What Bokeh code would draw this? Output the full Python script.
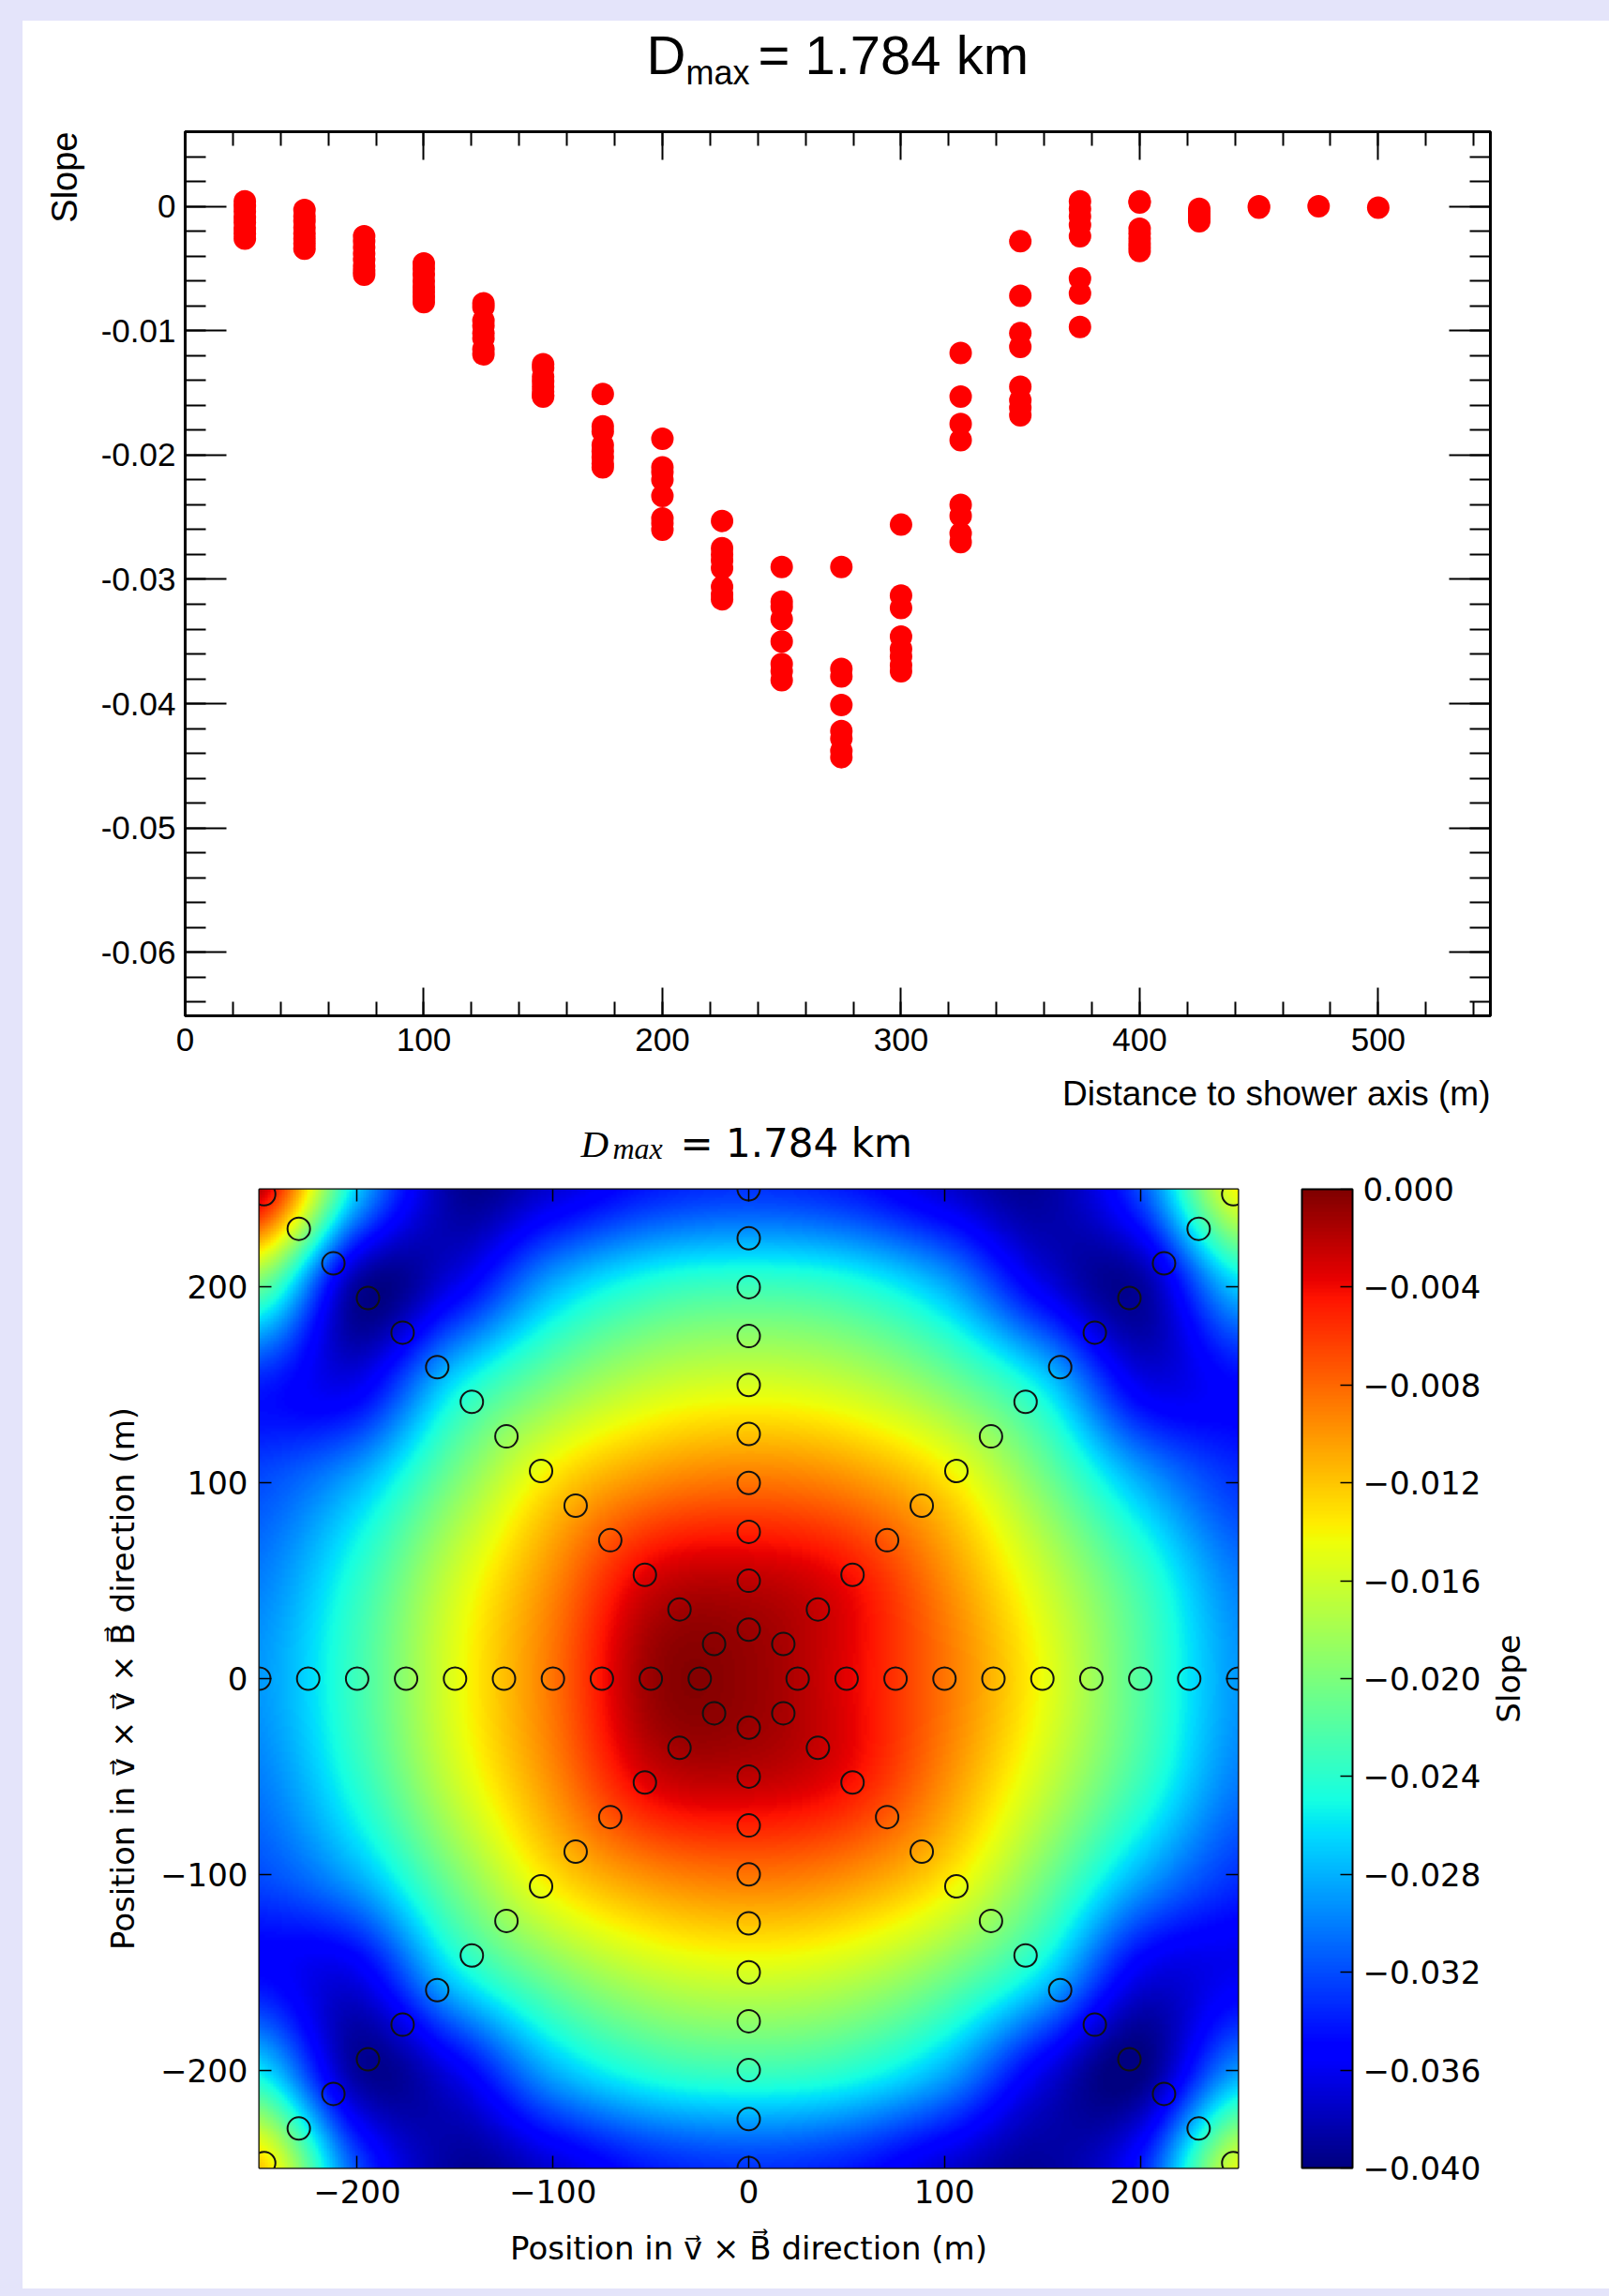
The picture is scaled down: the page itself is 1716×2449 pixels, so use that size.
import numpy as np
from bokeh.plotting import figure
from bokeh.models import (Range1d, LinearAxis, FixedTicker, CustomJSTickFormatter, Title, Label,
                          LinearColorMapper, ColorBar, AllLabels)
from bokeh.layouts import column, row
from bokeh.embed import file_html
from bokeh.resources import INLINE

# ---------------- data: top panel (slope vs distance) ----------------
distances = [25, 50, 75, 100, 125, 150, 175, 200, 225, 250,
             275, 300, 325, 350, 375, 400, 425, 450, 475, 500]
slope_d25 = [0.0004, 0.0000, -0.0004, -0.0009, -0.0013, -0.0018, -0.0022, -0.0026]
slope_d50 = [-0.0003, -0.0008, -0.0012, -0.0017, -0.0022, -0.0026, -0.0030, -0.0034]
slope_d75 = [-0.0024, -0.0028, -0.0033, -0.0038, -0.0043, -0.0048, -0.0052, -0.0055]
slope_d100 = [-0.0046, -0.0050, -0.0055, -0.0060, -0.0065, -0.0069, -0.0073, -0.0077]
slope_d125 = [-0.0078, -0.0081, -0.0092, -0.0096, -0.0102, -0.0106, -0.0115, -0.0119]
slope_d150 = [-0.0127, -0.0130, -0.0137, -0.0141, -0.0145, -0.0149, -0.0152, -0.0153]
slope_d175 = [-0.0151, -0.0177, -0.0181, -0.0192, -0.0197, -0.0202, -0.0207, -0.0210]
slope_d200 = [-0.0187, -0.0210, -0.0214, -0.0220, -0.0233, -0.0251, -0.0255, -0.0260]
slope_d225 = [-0.0253, -0.0275, -0.0280, -0.0285, -0.0291, -0.0306, -0.0312, -0.0316]
slope_d250 = [-0.0290, -0.0318, -0.0322, -0.0332, -0.0350, -0.0368, -0.0374, -0.0381]
slope_d275 = [-0.0290, -0.0372, -0.0378, -0.0401, -0.0422, -0.0428, -0.0438, -0.0443]
slope_d300 = [-0.0256, -0.0313, -0.0323, -0.0346, -0.0356, -0.0362, -0.0369, -0.0374]
slope_d325 = [-0.0118, -0.0153, -0.0175, -0.0188, -0.0240, -0.0249, -0.0263, -0.0270]
slope_d350 = [-0.0028, -0.0072, -0.0102, -0.0113, -0.0145, -0.0156, -0.0162, -0.0168]
slope_d375 = [0.0004, -0.0002, -0.0008, -0.0015, -0.0024, -0.0058, -0.0070, -0.0097]
slope_d400 = [0.0004, 0.0003, -0.0018, -0.0022, -0.0026, -0.0030, -0.0033, -0.0036]
slope_d425 = [-0.0002, -0.0004, -0.0006, -0.0008, -0.0010, -0.0012]
slope_d450 = [-0.0001, 0.0000]
slope_d475 = [0.0000]
slope_d500 = [-0.0001]

slopes_by_distance = [slope_d25, slope_d50, slope_d75, slope_d100, slope_d125, slope_d150,
                      slope_d175, slope_d200, slope_d225, slope_d250, slope_d275, slope_d300,
                      slope_d325, slope_d350, slope_d375, slope_d400, slope_d425, slope_d450,
                      slope_d475, slope_d500]

x_ticks_top = [0, 100, 200, 300, 400, 500]
y_ticks_top = [-0.06, -0.05, -0.04, -0.03, -0.02, -0.01, 0.0]

# ---------------- data: bottom panel (slope map) ----------------
map_x_centers = [-250, -200, -150, -100, -50, 0, 50, 100, 150, 200, 250]
map_y_centers = [250, 200, 150, 100, 50, 0, -50, -100, -150, -200, -250]
# rows from y = +250 (top) down to y = -250 (bottom); columns x = -250 ... 250
slope_grid = [
    [-0.002, -0.027, -0.039, -0.037, -0.034, -0.033, -0.034, -0.037, -0.039, -0.032, -0.014],
    [-0.021, -0.039, -0.036, -0.028, -0.024, -0.023, -0.024, -0.028, -0.036, -0.039, -0.027],
    [-0.034, -0.036, -0.026, -0.020, -0.0165, -0.0155, -0.0165, -0.020, -0.026, -0.036, -0.035],
    [-0.032, -0.028, -0.020, -0.013, -0.0095, -0.0085, -0.0095, -0.013, -0.020, -0.028, -0.033],
    [-0.030, -0.024, -0.016, -0.0095, -0.003, -0.0022, -0.004, -0.0095, -0.016, -0.023, -0.030],
    [-0.029, -0.023, -0.015, -0.0085, -0.001, -0.0008, -0.0035, -0.0085, -0.0145, -0.022, -0.029],
    [-0.030, -0.024, -0.016, -0.0095, -0.003, -0.0022, -0.004, -0.0095, -0.016, -0.023, -0.030],
    [-0.032, -0.028, -0.020, -0.013, -0.0095, -0.0085, -0.0095, -0.013, -0.020, -0.028, -0.033],
    [-0.035, -0.036, -0.026, -0.020, -0.0165, -0.0155, -0.0165, -0.020, -0.026, -0.036, -0.036],
    [-0.026, -0.039, -0.036, -0.028, -0.024, -0.023, -0.024, -0.028, -0.036, -0.040, -0.029],
    [-0.012, -0.032, -0.039, -0.037, -0.034, -0.033, -0.034, -0.037, -0.039, -0.034, -0.015],
]
arm_angles_deg = [0, 45, 90, 135, 180, 225, 270, 315]
station_radii = distances
map_ticks = [-200, -100, 0, 100, 200]
cbar_ticks = [-0.040, -0.036, -0.032, -0.028, -0.024, -0.020, -0.016, -0.012, -0.008, -0.004, 0.0]

LAVENDER = "#e4e4fa"

# ---------------- helpers ----------------
def jet_palette(n=256):
    f = np.linspace(0, 1, n)
    r = np.interp(f, [0, 0.35, 0.66, 0.89, 1], [0, 0, 1, 1, 0.5])
    g = np.interp(f, [0, 0.125, 0.375, 0.64, 0.91, 1], [0, 0, 1, 1, 0, 0])
    b = np.interp(f, [0, 0.11, 0.34, 0.65, 1], [0.5, 1, 1, 0, 0])
    return ["#%02x%02x%02x" % (int(round(255 * a)), int(round(255 * c)), int(round(255 * d)))
            for a, c, d in zip(r, g, b)]

def smooth_matrix(centers, lo, hi, n_out):
    """Catmull-Rom resampling matrix used only to display the grid smoothly."""
    centers = np.asarray(centers, dtype=float)
    if centers[0] > centers[-1]:
        centers = centers[::-1]
    stepc = centers[1] - centers[0]
    n_in = len(centers)
    xs = lo + (np.arange(n_out) + 0.5) * (hi - lo) / n_out
    M = np.zeros((n_out, n_in))
    for k, xv in enumerate(xs):
        t = (xv - centers[0]) / stepc
        i = int(np.floor(t))
        u = t - i
        w = [(-u ** 3 + 2 * u ** 2 - u) / 2, (3 * u ** 3 - 5 * u ** 2 + 2) / 2,
             (-3 * u ** 3 + 4 * u ** 2 + u) / 2, (u ** 3 - u ** 2) / 2]
        for j, wj in zip(range(i - 1, i + 3), w):
            M[k, min(max(j, 0), n_in - 1)] += wj
    return M

EMPTY = CustomJSTickFormatter(code="return '';")

def style_axis(ax, tin, tmin, font, size, standoff, width=2):
    ax.axis_line_color = None
    ax.major_tick_in = tin
    ax.major_tick_out = 0
    ax.minor_tick_in = tmin
    ax.minor_tick_out = 0
    ax.major_tick_line_color = "black"
    ax.minor_tick_line_color = "black"
    ax.major_tick_line_width = width
    ax.minor_tick_line_width = width
    ax.major_label_text_font = font
    ax.major_label_text_font_size = size
    ax.major_label_text_color = "black"
    ax.major_label_standoff = standoff

def mirror(ax):
    ax.formatter = EMPTY
    ax.major_label_standoff = 0
    ax.major_label_text_font_size = "1px"

def text_strip(width, height, left, right):
    """Blank figure whose frame is used (1 unit = 1 px) to place caption text."""
    f = figure(width=width, height=height, x_range=Range1d(0, width - left - right),
               y_range=Range1d(0, height), output_backend="svg", toolbar_location=None,
               title=None, x_axis_location=None, y_axis_location=None,
               min_border_left=left, min_border_right=right, min_border_top=0, min_border_bottom=0)
    f.xgrid.visible = False
    f.ygrid.visible = False
    f.outline_line_color = None
    f.border_fill_color = "white"
    f.background_fill_color = "white"
    return f

MID = 0.38   # distance from text middle to baseline, in em

# ---------------- top figure ----------------
L1, R1 = 173, 127
pt1 = text_strip(1692, 100, L1, R1)       # page y 22 .. 122
pt1.add_layout(Label(x=689 - 197, y=122 - (80 - MID * 58), text="D", text_font="Liberation Sans",
                     text_font_size="58px", text_color="black", text_baseline="middle"))
pt1.add_layout(Label(x=731 - 197, y=122 - (91 - MID * 36), text="max", text_font="Liberation Sans",
                     text_font_size="36px", text_color="black", text_baseline="middle"))
pt1.add_layout(Label(x=808 - 197, y=122 - (80 - MID * 58), text="= 1.784 km", text_font="Liberation Sans",
                     text_font_size="58px", text_color="black", text_baseline="middle"))

p1 = figure(width=1692, height=1018, x_range=Range1d(0, 547), y_range=Range1d(-0.0651, 0.0060),
            output_backend="svg", toolbar_location=None, title=None,
            x_axis_location=None, y_axis_location=None,
            min_border_left=L1, min_border_right=R1, min_border_top=18, min_border_bottom=57)
p1.xgrid.visible = False
p1.ygrid.visible = False
p1.background_fill_color = "white"
p1.border_fill_color = "white"
p1.outline_line_color = "black"
p1.outline_line_width = 3

x_minor = [v for v in range(0, 560, 20)]
y_minor = [round(-0.064 + 0.002 * i, 3) for i in range(36)]
for loc in ["below", "above"]:
    ax = LinearAxis(ticker=FixedTicker(ticks=x_ticks_top, minor_ticks=x_minor))
    style_axis(ax, 30, 15, "Liberation Sans", "35px", 13)
    if loc == "above":
        mirror(ax)
    p1.add_layout(ax, loc)
for loc in ["left", "right"]:
    ax = LinearAxis(ticker=FixedTicker(ticks=y_ticks_top, minor_ticks=y_minor))
    style_axis(ax, 44, 22, "Liberation Sans", "35px", 10)
    if loc == "left":
        ax.formatter = CustomJSTickFormatter(code="return Math.abs(tick) < 1e-12 ? '0' : tick.toFixed(2);")
    else:
        mirror(ax)
    p1.add_layout(ax, loc)

xs, ys = [], []
for d, vals in zip(distances, slopes_by_distance):
    xs += [d] * len(vals)
    ys += vals
p1.scatter(x=xs, y=ys, marker="circle", size=24, fill_color="#ff0000", line_color=None)

p1.add_layout(Title(text="Slope", align="right", text_font="Liberation Sans", text_font_size="38px",
                    text_font_style="normal", text_color="black", standoff=29), "left")

px1 = text_strip(1692, 52, L1, R1)        # page y 1140 .. 1192
px1.add_layout(Label(x=1392, y=1192 - (1180 - MID * 37), text="Distance to shower axis (m)",
                     text_align="right", text_baseline="middle", text_font="Liberation Sans",
                     text_font_size="37px", text_color="black"))

# ---------------- bottom figure ----------------
SLOPE_W = 130
L2, R2 = 252, 396
TOP2 = 54                                  # title strip: page y 1192 .. 1246
pt2 = text_strip(1692, TOP2, L2, R2)
Y2 = 1192 + TOP2
pt2.add_layout(Label(x=619 - 276, y=Y2 - (1235 - MID * 41), text="D", text_font="Liberation Serif",
                     text_font_style="italic", text_font_size="41px", text_color="black",
                     text_baseline="middle"))
pt2.add_layout(Label(x=653 - 276, y=Y2 - (1237 - MID * 32), text="max", text_font="Liberation Serif",
                     text_font_style="italic", text_font_size="32px", text_color="black",
                     text_baseline="middle"))
pt2.add_layout(Label(x=725 - 276, y=Y2 - (1235 - MID * 42), text="= 1.784 km", text_font="DejaVu Sans",
                     text_font_size="42px", text_color="black", text_baseline="middle"))

H2 = 2441 - Y2
p2 = figure(width=1692 - SLOPE_W, height=H2, x_range=Range1d(-250, 250), y_range=Range1d(-250, 250),
            output_backend="svg", toolbar_location=None, title=None,
            x_axis_location=None, y_axis_location=None,
            min_border_left=L2, min_border_right=R2 - SLOPE_W, min_border_top=1268 - Y2,
            min_border_bottom=129)
p2.xgrid.visible = False
p2.ygrid.visible = False
p2.border_fill_color = "white"
p2.outline_line_color = "black"
p2.outline_line_width = 2

mapper = LinearColorMapper(palette=jet_palette(), low=-0.04, high=0.0)
grid = np.array(slope_grid[::-1], dtype=float)          # bottom row first
NPIX = 348
Mx = smooth_matrix(map_x_centers, -250, 250, NPIX)
My = smooth_matrix(map_y_centers, -250, 250, NPIX)
display_img = My @ grid @ Mx.T
p2.image(image=[display_img], x=-250, y=-250, dw=500, dh=500, color_mapper=mapper)

sx, sy = [], []
for a in arm_angles_deg:
    for r in station_radii:
        sx.append(r * np.cos(np.radians(a)))
        sy.append(r * np.sin(np.radians(a)))
p2.scatter(x=sx, y=sy, marker="circle", size=24, fill_color=None, line_color="#111111", line_width=2)

minus_fmt = "return tick < 0 ? '\\u2212' + Math.abs(tick) : String(tick);"
for loc in ["below", "above", "left", "right"]:
    ax = LinearAxis(ticker=FixedTicker(ticks=map_ticks, minor_ticks=[]))
    style_axis(ax, 13, 0, "DejaVu Sans", "34px", 12, width=1.5)
    if loc in ("below", "left"):
        ax.formatter = CustomJSTickFormatter(code=minus_fmt)
        ax.axis_label_text_font = "DejaVu Sans"
        ax.axis_label_text_font_size = "34px"
        ax.axis_label_text_font_style = "normal"
        ax.axis_label_text_color = "black"
        if loc == "below":
            ax.axis_label = "Position in v\u20d7 \u00d7 B\u20d7 direction (m)"
            ax.axis_label_standoff = 25
        else:
            ax.axis_label = "Position in v\u20d7 \u00d7 v\u20d7 \u00d7 B\u20d7 direction (m)"
            ax.axis_label_standoff = 17
    else:
        mirror(ax)
    p2.add_layout(ax, loc)

cb = ColorBar(color_mapper=mapper, ticker=FixedTicker(ticks=cbar_ticks),
              formatter=CustomJSTickFormatter(code="return Math.abs(tick) < 1e-12 ? '0.000' : '\\u2212' + Math.abs(tick).toFixed(3);"),
              major_label_policy=AllLabels(),
              width=54, height=1044, location=(68, 0), padding=0, label_standoff=11,
              major_tick_in=13, major_tick_out=0, major_tick_line_color="black",
              major_tick_line_width=1.5, minor_tick_line_color=None,
              bar_line_color="black", bar_line_width=2,
              major_label_text_font="DejaVu Sans", major_label_text_font_size="34px",
              major_label_text_color="black",
              background_fill_color=None, border_line_color=None)
p2.add_layout(cb, "right")

# narrow strip to the right of the map that carries the colour-bar caption
p3 = figure(width=SLOPE_W, height=H2, x_range=Range1d(0, SLOPE_W), y_range=Range1d(0, 1044),
            output_backend="svg", toolbar_location=None, title=None,
            x_axis_location=None, y_axis_location=None,
            min_border_left=0, min_border_right=0, min_border_top=1268 - Y2, min_border_bottom=129)
p3.xgrid.visible = False
p3.ygrid.visible = False
p3.outline_line_color = None
p3.border_fill_color = "white"
p3.background_fill_color = "white"
p3.add_layout(Label(x=22, y=522, text="Slope", angle=np.pi / 2, text_align="center",
                    text_baseline="middle", text_font="DejaVu Sans", text_font_size="34px",
                    text_color="black"))

root1 = column(pt1, p1, px1, styles={"background-color": "white", "border-left": "24px solid " + LAVENDER,
                                     "border-top": "22px solid " + LAVENDER})
root2 = column(pt2, row(p2, p3), styles={"background-color": "white", "border-left": "24px solid " + LAVENDER,
                                         "border-bottom": "8px solid " + LAVENDER})

with open("out.html", "w") as f:
    f.write(file_html([root1, root2], INLINE))
